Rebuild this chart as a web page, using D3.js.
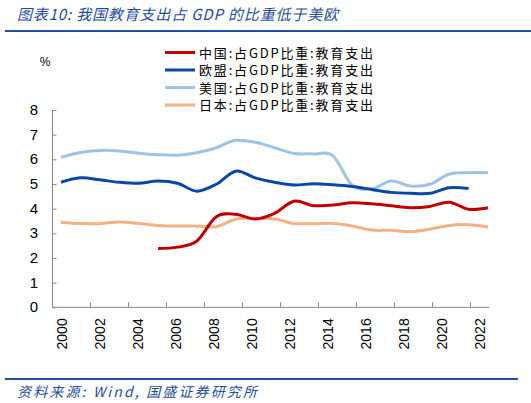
<!DOCTYPE html>
<html><head><meta charset="utf-8">
<script src="https://cdn.jsdelivr.net/npm/d3@7"></script>
<style>body{margin:0;background:#fff}</style>
</head><body>
<svg id="c" width="531" height="403"></svg>
<script>
const years = d3.range(2000, 2023);
const tickYears = years.filter(y => (y - 2000) % 2 === 0);
const yTicks = [0,1,2,3,4,5,6,7,8];
const seriesNames = ["中国:占GDP比重:教育支出","欧盟:占GDP比重:教育支出","美国:占GDP比重:教育支出","日本:占GDP比重:教育支出"];
const seriesColors = ["#C00000","#0A47A4","#9DC3E6","#F4B183"];
const chinaYears = d3.range(2005, 2023);
const chinaVals = [2.38,2.44,2.69,3.67,3.77,3.58,3.81,4.30,4.12,4.15,4.24,4.20,4.12,4.04,4.09,4.26,3.98,4.04];
const euYears = d3.range(2000, 2022);
const euVals = [5.07,5.25,5.17,5.07,5.03,5.12,5.03,4.71,4.99,5.52,5.25,5.07,4.96,5.01,4.97,4.90,4.78,4.66,4.62,4.62,4.85,4.82];
const usYears = d3.range(2000, 2023);
const usVals = [6.08,6.28,6.36,6.34,6.25,6.19,6.17,6.27,6.47,6.77,6.69,6.47,6.24,6.22,6.15,4.95,4.80,5.12,4.92,4.99,5.40,5.46,5.46];
const jpYears = d3.range(2000, 2023);
const jpVals = [3.44,3.40,3.39,3.46,3.40,3.32,3.30,3.30,3.27,3.57,3.61,3.58,3.40,3.39,3.40,3.30,3.13,3.12,3.07,3.17,3.32,3.35,3.26];

const svg = d3.select("#c");
const blue = "#1F4E9E";
const cjk = "'Noto Sans CJK SC', sans-serif";

// title
svg.append("text").attr("x",17).attr("y",20).attr("font-family",cjk).attr("font-style","italic")
  .attr("font-size",15).attr("fill",blue).attr("textLength",321).attr("lengthAdjust","spacing")
  .text("图表10: 我国教育支出占 GDP 的比重低于美欧");
svg.append("line").attr("x1",5).attr("x2",531).attr("y1",31).attr("y2",31).attr("stroke",blue).attr("stroke-width",2);
// footer
svg.append("line").attr("x1",5).attr("x2",518).attr("y1",379).attr("y2",379).attr("stroke",blue).attr("stroke-width",2);
svg.append("text").attr("x",17).attr("y",397).attr("font-family",cjk).attr("font-style","italic")
  .attr("font-size",14).attr("fill",blue).attr("textLength",240).attr("lengthAdjust","spacing")
  .text("资料来源: Wind, 国盛证券研究所");

const y = d3.scaleLinear().domain([0,8]).range([307.3,110]);
const xBand = d3.scaleBand().domain(years).range([52,489]);
const x = d3.scaleLinear().domain([2000,2022]).range([61,488]);

const axisColor = "#898989";
// y axis
const ya = svg.append("g").attr("transform","translate(52.5,0)")
  .call(d3.axisRight(y).tickValues(yTicks).tickSize(4).tickFormat(""));
ya.select(".domain").attr("stroke",axisColor).attr("d","M0,"+y(8)+"V"+y(0));
ya.selectAll(".tick line").attr("stroke",axisColor);
svg.append("g").selectAll("text").data(yTicks).join("text")
  .attr("x",38).attr("y",d=>y(d)+5).attr("text-anchor","end")
  .attr("font-family","'Liberation Sans', Arial, sans-serif").attr("font-size",15).attr("fill","#000").text(d=>d);
svg.append("text").attr("x",45).attr("y",66).attr("text-anchor","middle")
  .attr("font-family","'Liberation Sans', Arial, sans-serif").attr("font-size",12).text("%");

// x axis
const xa = svg.append("g").attr("transform","translate(0,307.3)");
xa.append("line").attr("x1",52).attr("x2",489).attr("stroke",axisColor);
xa.selectAll("line.t").data(tickYears).join("line").attr("class","t")
  .attr("x1",d=>xBand(d)+0.5).attr("x2",d=>xBand(d)+0.5).attr("y1",0).attr("y2",-5).attr("stroke",axisColor);
xa.selectAll("text").data(tickYears).join("text")
  .attr("transform",d=>`translate(${xBand(d)+xBand.bandwidth()/2+5},11) rotate(-90)`)
  .attr("text-anchor","end").attr("font-family","'Liberation Sans', Arial, sans-serif")
  .attr("font-size",14).text(d=>d);

// lines
const line = d3.line().x(d=>x(d[0])).y(d=>y(d[1])).curve(d3.curveCardinal.tension(0));
const series = [
  [chinaYears, chinaVals],
  [euYears, euVals],
  [usYears, usVals],
  [jpYears, jpVals]
];
const drawOrder = [3,2,1,0];
drawOrder.forEach(i => {
  const pts = series[i][0].map((yr,k)=>[yr, series[i][1][k]]);
  svg.append("path").attr("d",line(pts)).attr("fill","none")
    .attr("stroke",seriesColors[i]).attr("stroke-width",3).attr("stroke-linejoin","round");
});

// legend
const lg = svg.append("g");
seriesNames.forEach((n,i)=>{
  const yy = 52.5 + i*17.5;
  lg.append("line").attr("x1",165).attr("x2",195).attr("y1",yy).attr("y2",yy)
    .attr("stroke",seriesColors[i]).attr("stroke-width",3);
  lg.append("text").attr("x",199).attr("y",yy+5).attr("font-family",cjk).attr("font-size",13)
    .attr("textLength",174).attr("lengthAdjust","spacing").text(n);
});
</script>
</body></html>
